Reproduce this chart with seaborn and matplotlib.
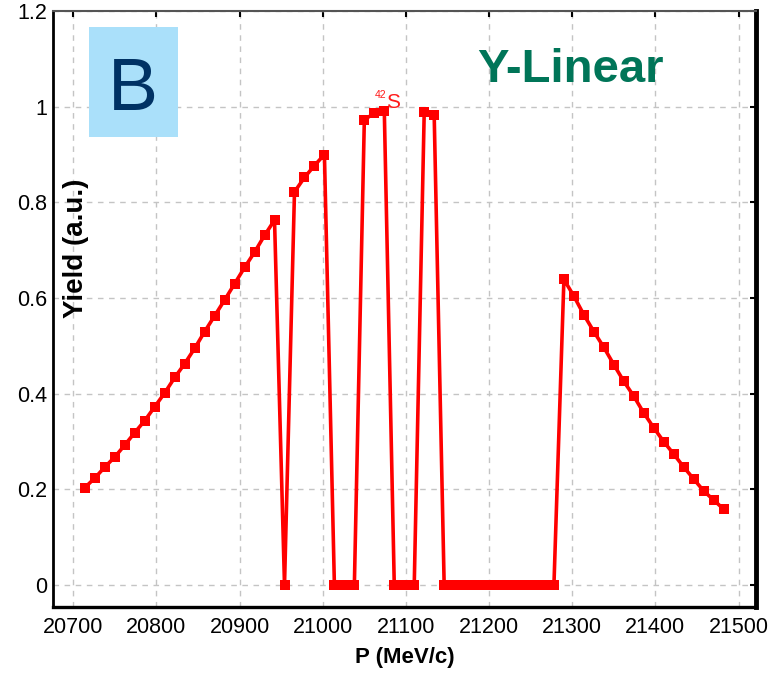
import matplotlib
matplotlib.use("Agg")
import matplotlib.pyplot as plt
import matplotlib.patches as mpatches
import seaborn as sns
import pandas as pd

# ---- data ----
p_values = [20714, 20726, 20738, 20750, 20762, 20774, 20786, 20798, 20810, 20822,
            20834, 20846, 20858, 20870, 20882, 20894, 20906, 20918, 20930, 20942,
            20954, 20966, 20978, 20990, 21002, 21014, 21026, 21038, 21050, 21062,
            21074, 21086, 21098, 21110, 21122, 21134, 21146, 21158, 21170, 21182,
            21194, 21206, 21218, 21230, 21242, 21254, 21266, 21278, 21290, 21302,
            21314, 21326, 21338, 21350, 21362, 21374, 21386, 21398, 21410, 21422,
            21434, 21446, 21458, 21470, 21482]
yield_values = [0.204, 0.224, 0.247, 0.268, 0.293, 0.319, 0.344, 0.373, 0.402, 0.434,
                0.463, 0.495, 0.530, 0.563, 0.596, 0.630, 0.664, 0.696, 0.731, 0.763,
                0.0, 0.822, 0.852, 0.877, 0.900, 0.0, 0.0, 0.0, 0.973, 0.986,
                0.992, 0.0, 0.0, 0.0, 0.988, 0.982, 0.0, 0.0, 0.0, 0.0,
                0.0, 0.0, 0.0, 0.0, 0.0, 0.0, 0.0, 0.0, 0.639, 0.604,
                0.565, 0.530, 0.497, 0.461, 0.426, 0.395, 0.360, 0.329, 0.300, 0.274,
                0.247, 0.222, 0.197, 0.178, 0.159]
x_ticks = [20700, 20800, 20900, 21000, 21100, 21200, 21300, 21400, 21500]
x_tick_labels = ["20700", "20800", "20900", "21000", "21100", "21200", "21300", "21400", "21500"]
y_ticks = [0, 0.2, 0.4, 0.6, 0.8, 1.0, 1.2]
y_tick_labels = ["0", "0.2", "0.4", "0.6", "0.8", "1", "1.2"]

df = pd.DataFrame({"P": p_values, "Yield": yield_values})

sns.set_style("white")
plt.rcParams["font.family"] = ["Liberation Sans", "DejaVu Sans"]
plt.rcParams["text.color"] = "black"
plt.rcParams["axes.labelcolor"] = "black"

fig = plt.figure(figsize=(7.69, 6.79), dpi=100)
ax = fig.add_axes([53 / 769, 1 - 607 / 679, (756 - 53) / 769, (607 - 11) / 679])

sns.lineplot(data=df, x="P", y="Yield", ax=ax, color="#ff0000", linewidth=2.6,
             marker="s", markersize=6.5, markeredgewidth=0, markerfacecolor="#ff0000")

ax.set_xlim(20675.6, 21521)
ax.set_ylim(-0.0457, 1.1926)
ax.set_xticks(x_ticks)
ax.set_xticklabels(x_tick_labels)
ax.set_yticks(y_ticks)
ax.set_yticklabels(y_tick_labels)

ax.grid(True, color="#c4c4c4", linestyle=(0, (4, 4)), linewidth=1.0)
ax.set_axisbelow(True)

ax.tick_params(axis="both", which="both", direction="in", length=4, width=1.5,
               color="black", labelcolor="black", labelsize=15.5, top=True, right=True,
               labeltop=False, labelright=False)
ax.tick_params(axis="x", pad=7)
ax.tick_params(axis="y", pad=4)

ax.spines["left"].set_linewidth(2.0)
ax.spines["left"].set_color("black")
ax.spines["bottom"].set_linewidth(2.4)
ax.spines["bottom"].set_color("black")
ax.spines["right"].set_linewidth(3.5)
ax.spines["right"].set_color("black")
ax.spines["top"].set_linewidth(1.5)
ax.spines["top"].set_color("#555555")

ax.set_xlabel("P (MeV/c)", fontsize=16, fontweight="bold", color="black")
ax.set_ylabel("Yield (a.u.)", fontsize=20, fontweight="bold", color="black")
ax.xaxis.set_label_coords((405 - 53) / 703, -(658 - 607) / 596)
ax.xaxis.label.set_va("center")
ax.yaxis.set_label_coords((76 - 53) / 703, (607 - 248) / 596)
ax.yaxis.label.set_va("center")
ax.yaxis.label.set_ha("center")

# 42S annotation
ax.text(21063, 1.018, "42", color="#ff1a1a", fontsize=7.5, ha="left", va="baseline")
ax.text(21076, 0.997, "S", color="#ff1a1a", fontsize=15, ha="left", va="baseline")

# "B" panel box
rect = mpatches.Rectangle((89 / 769, 1 - 137 / 679), 89 / 769, 110 / 679,
                          transform=fig.transFigure, facecolor="#aae0fa",
                          edgecolor="none", zorder=5)
fig.patches.append(rect)
fig.text(133 / 769, 1 - 110 / 679, "B", fontsize=54, color="#003264",
         ha="center", va="baseline", zorder=6)

fig.text(570 / 769, 1 - 82 / 679, "Y-Linear", fontsize=34, fontweight="bold",
         color="#007558", ha="center", va="baseline", zorder=6)

fig.savefig("out.png", dpi=100)
